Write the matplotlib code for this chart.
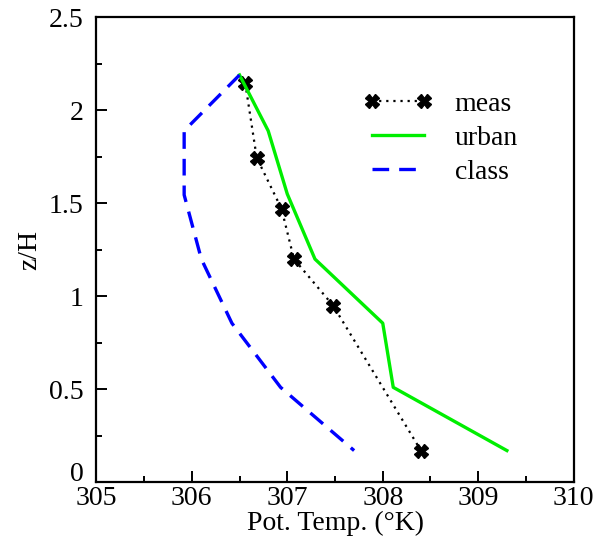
import matplotlib
matplotlib.use('Agg')
from matplotlib import pyplot as plt
from matplotlib.ticker import MultipleLocator
import matplotlib.transforms as mtrans

# perfis de temperatura potencial
meas_t = [306.56, 306.68, 306.94, 307.07, 307.48, 308.40]
meas_z = [2.145, 1.745, 1.47, 1.20, 0.95, 0.17]

urban_t = [306.50, 306.80, 307.00, 307.29, 308.00, 308.11, 309.30]
urban_z = [2.19, 1.89, 1.55, 1.20, 0.855, 0.51, 0.17]

class_t = [306.50, 305.92, 305.92, 306.10, 306.42, 306.93, 307.70]
class_z = [2.19, 1.89, 1.545, 1.20, 0.855, 0.51, 0.17]

xticks = [305, 306, 307, 308, 309, 310]
yticks = [0, 0.5, 1, 1.5, 2, 2.5]
ytick_labels = ['0', '0.5', '1', '1.5', '2', '2.5']

plt.rcParams['font.family'] = ['Liberation Serif', 'DejaVu Serif']

fig = plt.figure(figsize=(6.02, 5.6), dpi=100)
ax = fig.add_axes([0.160, 0.139, 0.793, 0.830])

ax.plot(meas_t, meas_z, c='k', ls=(0, (1, 2.2)), lw=1.6, marker='X',
        ms=10, mec='k', mfc='k', label='meas')
ax.plot(urban_t, urban_z, c='#00ee00', lw=2.4, label='urban')
ax.plot(class_t, class_z, c='#0000ff', lw=2.4, ls=(0, (5, 3)), label='class')

ax.set_xlim(305, 310)
ax.set_ylim(0, 2.5)
ax.set_xticks(xticks)
ax.set_xticklabels([str(t) for t in xticks])
ax.set_yticks(yticks)
ax.set_yticklabels(ytick_labels)
ax.xaxis.set_minor_locator(MultipleLocator(0.5))
ax.yaxis.set_minor_locator(MultipleLocator(0.25))

ax.tick_params(which='both', direction='in', top=False, right=False,
               labelsize=20, width=1.4)
ax.tick_params(which='major', length=8)
ax.tick_params(axis='y', which='major', pad=9)
ax.tick_params(axis='x', which='major', pad=3)
ax.tick_params(which='minor', length=4)
for s in ax.spines.values():
    s.set_linewidth(1.6)

# o "0" do eixo y fica um pouco acima do tick
lab0 = ax.get_yticklabels()[0]
lab0.set_transform(lab0.get_transform() +
                   mtrans.ScaledTranslation(0, 8 / 72, fig.dpi_scale_trans))

ax.set_xlabel('Pot. Temp. (°K)', size=20, labelpad=0)
ax.set_ylabel('z/H', size=20, labelpad=5)

ax.legend(loc='upper left', bbox_to_anchor=(0.559, 0.84), frameon=False,
          fontsize=20, handlelength=2.5, handletextpad=0.8, labelspacing=0.3,
          borderpad=0, borderaxespad=0, numpoints=2)

plt.savefig('out.png', dpi=100)
